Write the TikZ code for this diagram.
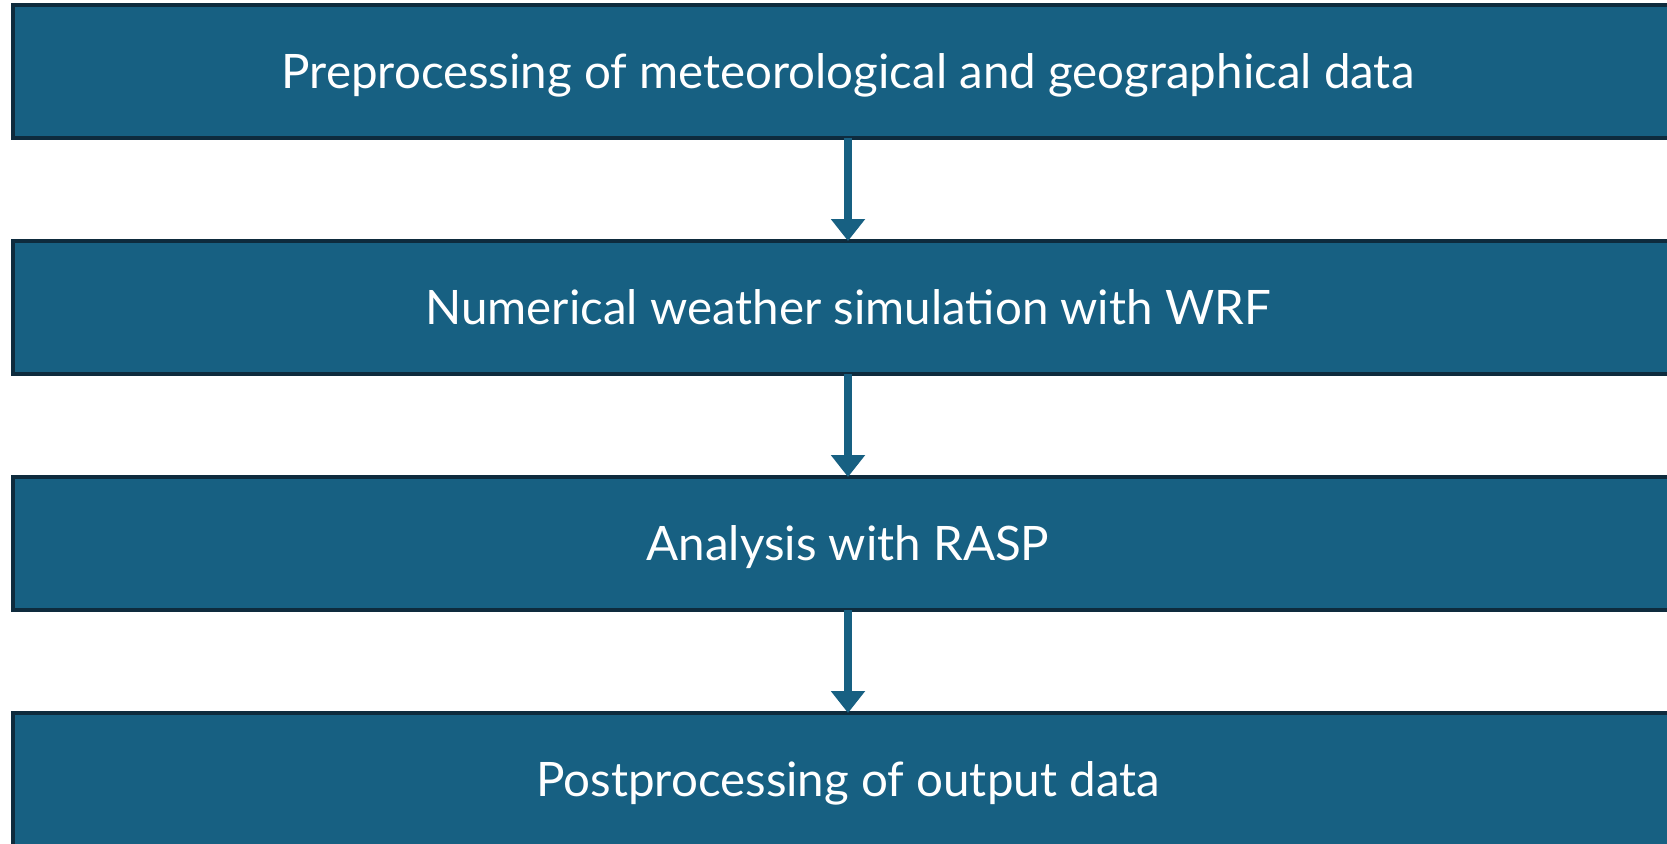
\documentclass[tikz,border=0pt]{standalone}
\usepackage{fontspec}
\setmainfont{Lato}
\usetikzlibrary{arrows.meta}
\definecolor{boxfill}{HTML}{176082}
\definecolor{boxline}{HTML}{0E2B3D}
\tikzset{
  stepbox/.style={draw=boxline, fill=boxfill, line width=4pt, minimum width=1670pt, minimum height=133pt, outer sep=0pt, inner sep=0pt, text height=34pt, text depth=0pt, text=white, font=\fontsize{47.5}{56}\selectfont},
  flowarrow/.style={draw=boxfill, line width=8pt, -{Triangle[width=33pt,length=22pt]}}
}
\begin{document}
\begin{tikzpicture}[x=1pt,y=-1pt]
\useasboundingbox (0,0) rectangle (1667,843);
\clip (0,0) rectangle (1667,843);
\node[stepbox] (b1) at (848,71.5) {Preprocessing of meteorological and geographical data};
\node[stepbox] (b2) at (848,307.5) {Numerical weather simulation with WRF};
\node[stepbox] (b3) at (848,543.5) {Analysis with RASP};
\node[stepbox] (b4) at (848,779.5) {Postprocessing of output data};
\draw[flowarrow] (b1.south) -- (b2.north);
\draw[flowarrow] (b2.south) -- (b3.north);
\draw[flowarrow] (b3.south) -- (b4.north);
\end{tikzpicture}
\end{document}
